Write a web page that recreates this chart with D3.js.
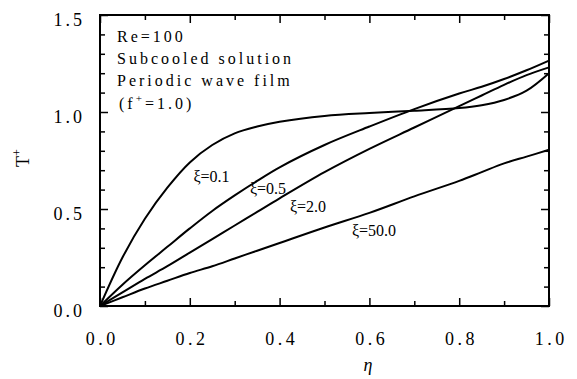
<!DOCTYPE html>
<html>
<head>
<meta charset="utf-8">
<script src="https://cdn.jsdelivr.net/npm/d3@7"></script>
<style>
  html, body { margin: 0; padding: 0; background: #fff; }
  svg { display: block; }
  svg text { font-family: "Liberation Serif", "Times New Roman", Times, "DejaVu Serif", serif !important; fill: #000; }
</style>
</head>
<body>
<script>
// ---- data ----
const eta = [0, 0.05, 0.1, 0.15, 0.2, 0.25, 0.3, 0.35, 0.4, 0.5, 0.6, 0.7, 0.8, 0.85, 0.9, 0.95, 1.0];
const xi01  = [0, 0.25, 0.45, 0.61, 0.74, 0.83, 0.89, 0.925, 0.95, 0.98, 0.995, 1.006, 1.02, 1.035, 1.062, 1.11, 1.20];
const xi05  = [0, 0.11, 0.21, 0.305, 0.40, 0.49, 0.57, 0.645, 0.715, 0.83, 0.925, 1.015, 1.095, 1.13, 1.17, 1.215, 1.265];
const xi20  = [0, 0.07, 0.14, 0.205, 0.275, 0.345, 0.415, 0.485, 0.555, 0.69, 0.81, 0.92, 1.03, 1.085, 1.14, 1.19, 1.23];
const xi500 = [0, 0.045, 0.09, 0.13, 0.17, 0.205, 0.245, 0.285, 0.325, 0.405, 0.48, 0.565, 0.645, 0.69, 0.735, 0.77, 0.805];
const seriesNames = ["ξ=0.1", "ξ=0.5", "ξ=2.0", "ξ=50.0"];
const seriesValues = [xi01, xi05, xi20, xi500];
// label anchor points (data coords)
const labelEta = [0.208, 0.334, 0.423, 0.561];
const labelT   = [0.64, 0.575, 0.485, 0.36];
const xMajor = [0, 0.2, 0.4, 0.6, 0.8, 1.0];
const xMinor = [0.1, 0.3, 0.5, 0.7, 0.9];
const yMajor = [0, 0.5, 1.0, 1.5];
const yMinor = [0.1, 0.2, 0.3, 0.4, 0.6, 0.7, 0.8, 0.9, 1.1, 1.2, 1.3, 1.4];
const infoLines = ["Re=100", "Subcooled solution", "Periodic wave film"];

// ---- layout ----
const FONT = '"Liberation Serif", "Times New Roman", Times, "DejaVu Serif", serif';
const W = 577, H = 379;
const L = 100, R = 549, T = 15, B = 306;
const svg = d3.select("body").append("svg").attr("width", W).attr("height", H)
  .attr("font-family", FONT);
const x = d3.scaleLinear().domain([0, 1]).range([L, R]);
const y = d3.scaleLinear().domain([0, 1.5]).range([B, T]);

function styleAxis(g) {
  g.attr("font-family", FONT);
  g.select(".domain").remove();
  g.selectAll(".tick line").attr("stroke", "#000").attr("stroke-width", 1.5);
}

// bottom
svg.append("g").attr("transform", `translate(0,${B})`)
  .call(d3.axisBottom(x).tickValues(xMajor).tickSize(-8).tickPadding(26).tickFormat(d3.format(".1f")))
  .call(styleAxis)
  .call(g => g.selectAll("text").attr("font-size", 18).attr("letter-spacing", 3.5)
     .attr("dx", 1.75).attr("dy", "0.71em"));
svg.append("g").attr("transform", `translate(0,${B})`)
  .call(d3.axisBottom(x).tickValues(xMinor).tickSize(-5).tickFormat(""))
  .call(styleAxis);
// top
svg.append("g").attr("transform", `translate(0,${T})`)
  .call(d3.axisTop(x).tickValues(xMajor).tickSize(-8).tickFormat(""))
  .call(styleAxis);
svg.append("g").attr("transform", `translate(0,${T})`)
  .call(d3.axisTop(x).tickValues(xMinor).tickSize(-5).tickFormat(""))
  .call(styleAxis);
// left
svg.append("g").attr("transform", `translate(${L},0)`)
  .call(d3.axisLeft(y).tickValues(yMajor).tickSize(-8).tickPadding(15).tickFormat(d3.format(".1f")))
  .call(styleAxis)
  .call(g => g.selectAll("text").attr("font-size", 18).attr("letter-spacing", 3)
     .attr("dy", "0.58em"));
svg.append("g").attr("transform", `translate(${L},0)`)
  .call(d3.axisLeft(y).tickValues(yMinor).tickSize(-5).tickFormat(""))
  .call(styleAxis);
// right
svg.append("g").attr("transform", `translate(${R},0)`)
  .call(d3.axisRight(y).tickValues(yMajor).tickSize(-8).tickFormat(""))
  .call(styleAxis);
svg.append("g").attr("transform", `translate(${R},0)`)
  .call(d3.axisRight(y).tickValues(yMinor).tickSize(-5).tickFormat(""))
  .call(styleAxis);

// frame
svg.append("rect").attr("x", L).attr("y", T).attr("width", R - L).attr("height", B - T)
  .attr("fill", "none").attr("stroke", "#000").attr("stroke-width", 2);

// curves
const line = d3.line().x(d => x(d[0])).y(d => y(d[1])).curve(d3.curveCatmullRom.alpha(0.5));
seriesValues.forEach(vals => {
  svg.append("path").datum(eta.map((e, i) => [e, vals[i]]))
    .attr("d", line).attr("fill", "none").attr("stroke", "#000").attr("stroke-width", 2)
    .attr("stroke-linejoin", "round");
});

// curve labels
seriesNames.forEach((n, i) => {
  svg.append("text").attr("x", x(labelEta[i])).attr("y", y(labelT[i]))
    .attr("font-size", 16).text(n);
});

// info text
infoLines.forEach((s, i) => {
  svg.append("text").attr("x", 117).attr("y", 42 + i * 22)
    .attr("font-size", 16).attr("letter-spacing", 3).text(s);
});
const ft = svg.append("text").attr("x", 119).attr("y", 109)
  .attr("font-size", 16).attr("letter-spacing", 3);
ft.append("tspan").text("(f");
ft.append("tspan").attr("dy", -7).attr("font-size", 11).text("+");
ft.append("tspan").attr("dy", 7).text("=1.0)");

// axis titles
svg.append("text").attr("x", 368).attr("y", 371).attr("text-anchor", "middle")
  .attr("font-size", 18).attr("font-style", "italic").text("η");
const yt = svg.append("text").attr("transform", "translate(29,158) rotate(-90)")
  .attr("text-anchor", "middle").attr("font-size", 18);
yt.append("tspan").text("T");
yt.append("tspan").attr("dy", -8).attr("font-size", 12).text("+");
</script>
</body>
</html>
